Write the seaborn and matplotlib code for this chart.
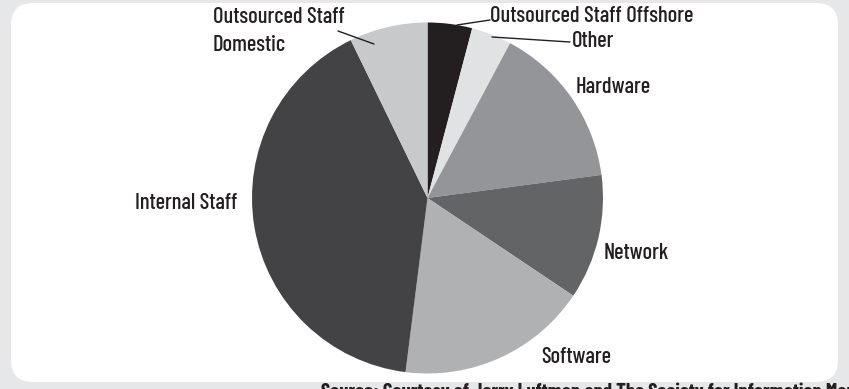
import matplotlib
matplotlib.use("Agg")
import matplotlib.pyplot as plt
import seaborn as sns
from matplotlib.patches import FancyBboxPatch
from matplotlib import font_manager as fm
from matplotlib.textpath import TextPath
from matplotlib.font_manager import FontProperties

# ---- data ----
categories = ["Outsourced Staff Offshore", "Other", "Hardware", "Network",
              "Software", "Internal Staff", "Outsourced Staff Domestic"]
shares = [4.1, 3.7, 15.1, 11.5, 17.6, 40.8, 7.2]
colors = ["#231f20", "#e1e2e3", "#949598", "#636466", "#b0b1b3", "#434345", "#c8c9cb"]
source_text = "Source: Courtesy of Jerry Luftman and The Society for Information Management"

sns.set_theme(style="white")

available = {f.name for f in fm.fontManager.ttflist}
candidates = ["Barlow Condensed", "Archivo Narrow", "Roboto Condensed", "PT Sans Narrow",
              "Liberation Sans Narrow", "Arial Narrow", "IBM Plex Sans Condensed",
              "Encode Sans Condensed", "Open Sans Condensed"]
family = next((c for c in candidates if c in available), "Open Sans")
plt.rcParams["font.family"] = [family, "DejaVu Sans"]
plt.rcParams["font.stretch"] = "condensed"
WEIGHT = 500

# fit font size so the longest label matches the reference width (~202 px)
probe = FontProperties(family=family, stretch="condensed", weight=WEIGHT, size=14)
wpx = TextPath((0, 0), categories[0], prop=probe).get_extents().width * 100 / 72
fs = 14 * 202 / wpx

W, H = 849, 389
fig = plt.figure(figsize=(W / 100, H / 100), dpi=100, facecolor="#e6e7e8")
ax = fig.add_axes([0, 0, 1, 1])

def Y(py):
    return H - py

cx, cy, r = 427.5, Y(198), 175.5
ax.pie(shares, colors=colors, startangle=90, counterclock=False,
       center=(cx, cy), radius=r, frame=True,
       wedgeprops=dict(linewidth=0), normalize=True)
ax.set_xlim(0, W)
ax.set_ylim(0, H)
ax.set_aspect("equal")
ax.axis("off")

# white rounded panel
panel = FancyBboxPatch((11 + 22, Y(382) + 22), 838 - 11 - 44, 382 - 3 - 44,
                       boxstyle="round,pad=22", facecolor="white", edgecolor="none", zorder=0)
ax.add_patch(panel)

tc = "#231f20"
kw = dict(fontsize=fs, color=tc, va="center", fontweight=WEIGHT)
ax.text(490, Y(16), categories[0], ha="left", **kw)
ax.plot([457, 490], [Y(25), Y(20)], color=tc, lw=1)
ax.text(572, Y(41), categories[1], ha="left", **kw)
ax.plot([492, 570], [Y(37), Y(42)], color=tc, lw=1)
ax.text(576, Y(87), categories[2], ha="left", **kw)
ax.text(604, Y(253), categories[3], ha="left", **kw)
ax.text(541, Y(357), categories[4], ha="left", **kw)
ax.text(237, Y(203), categories[5], ha="right", **kw)
ax.text(213, Y(31), "Outsourced Staff\nDomestic", ha="left", linespacing=1.5, **kw)
ax.plot([338, 374], [Y(31), Y(44)], color=tc, lw=1)

# source line (partly below the panel, as in the reference)
ax.text(321, Y(383), source_text, fontsize=fs * 0.92, color=tc, va="top", ha="left",
        fontweight="bold")

fig.savefig("out.png", dpi=100, facecolor=fig.get_facecolor())
